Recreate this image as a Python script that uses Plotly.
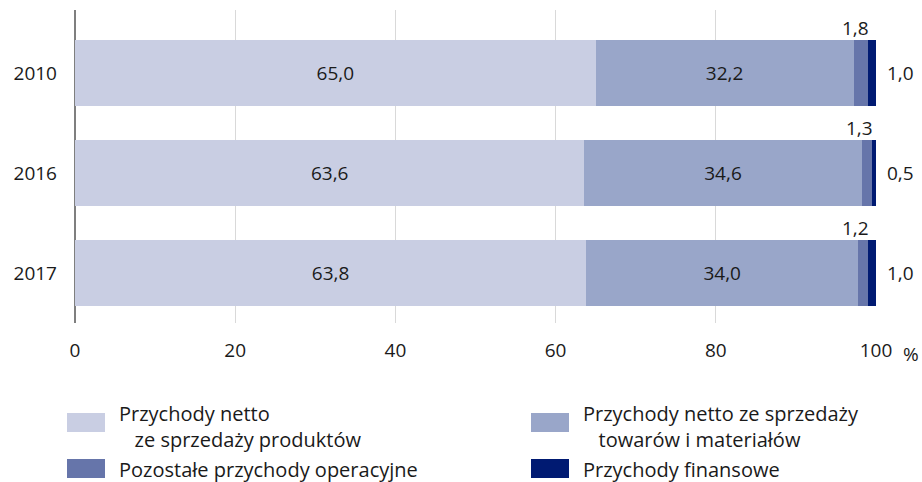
import plotly.graph_objects as go

years = ["2010", "2016", "2017"]
series_names = [
    "Przychody netto ze sprzedaży produktów",
    "Przychody netto ze sprzedaży towarów i materiałów",
    "Pozostałe przychody operacyjne",
    "Przychody finansowe",
]
legend_lines = [
    ["Przychody netto", "ze sprzedaży produktów"],
    ["Przychody netto ze sprzedaży", "towarów i materiałów"],
    ["Pozostałe przychody operacyjne"],
    ["Przychody finansowe"],
]
produkty = [65.0, 63.6, 63.8]
towary = [32.2, 34.6, 34.0]
pozostale = [1.8, 1.3, 1.2]
finansowe = [1.0, 0.5, 1.0]
x_ticks = [0, 20, 40, 60, 80, 100]

colors = ["#c9cee3", "#99a6c9", "#6675aa", "#001a72"]
FONT = "Open Sans"
TXT = "#1a1a1a"
FS = 19
LFS = 20

values = [produkty, towary, pozostale, finansowe]
ypos = list(range(len(years)))

fig = go.Figure()
for i, (name, vals) in enumerate(zip(series_names, values)):
    fig.add_trace(go.Bar(
        y=ypos, x=vals, orientation="h", name=name,
        marker=dict(color=colors[i], line=dict(width=0)),
        width=0.66,
        text=vals if i < 2 else None,
        texttemplate="%{x:.1f}" if i < 2 else None,
        textposition="inside" if i < 2 else "none",
        insidetextanchor="middle",
        textfont=dict(family=FONT, size=FS, color=TXT),
        showlegend=False,
        hoverinfo="x+name",
    ))

fmt = lambda v: f"{v:.1f}".replace(".", ",")
annotations = []
for k in range(len(years)):
    end3 = produkty[k] + towary[k] + pozostale[k]
    total = end3 + finansowe[k]
    annotations.append(dict(x=end3, y=ypos[k] - 0.33, xref="x", yref="y",
                            text=fmt(pozostale[k]), showarrow=False,
                            xanchor="right", yanchor="bottom", xshift=3, yshift=-3,
                            font=dict(family=FONT, size=FS, color=TXT)))
    annotations.append(dict(x=total, y=ypos[k], xref="x", yref="y",
                            text=fmt(finansowe[k]), showarrow=False,
                            xanchor="left", yanchor="middle", xshift=9,
                            font=dict(family=FONT, size=FS, color=TXT)))
annotations.append(dict(x=100, y=0, xref="x", yref="paper", text="%", showarrow=False,
                        xanchor="center", yanchor="top", xshift=35, yshift=-16,
                        font=dict(family=FONT, size=FS, color=TXT)))

# legend (custom, two columns)
W, H = 922, 482
leg_pos = [(67, 413), (531, 413), (67, 459), (531, 459)]
shapes = []
for i, (lx, ly) in enumerate(leg_pos):
    shapes.append(dict(type="rect", xref="paper", yref="paper",
                       x0=(lx - 75) / 801, x1=(lx + 38 - 75) / 801,
                       y0=(323 - ly) / 313, y1=(323 - ly - 19) / 313,
                       fillcolor=colors[i], line=dict(width=0)))
    lines = legend_lines[i]
    text = "<br>".join(lines[:1] + ["\u00a0\u00a0\u00a0" + l for l in lines[1:]])
    tx = lx + 50
    ty = ly + 13 if len(lines) > 1 else ly + 10
    annotations.append(dict(x=(tx - 75) / 801, y=(323 - ty) / 313,
                            xref="paper", yref="paper", text=text, showarrow=False,
                            xanchor="left", yanchor="middle", align="left",
                            font=dict(family=FONT, size=LFS, color=TXT)))

fig.update_layout(
    width=W, height=H,
    margin=dict(l=75, r=46, t=10, b=159),
    plot_bgcolor="white", paper_bgcolor="white",
    barmode="stack", separators=", ",
    showlegend=False,
    font=dict(family=FONT, size=FS, color=TXT),
    xaxis=dict(range=[0, 100], tickvals=x_ticks, ticktext=[str(t) for t in x_ticks],
               showgrid=True, gridcolor="#d9d9d9", gridwidth=1,
               zeroline=True, zerolinecolor="#7f7f7f", zerolinewidth=1.5,
               ticks="", ticklabelstandoff=14,
               tickfont=dict(family=FONT, size=FS, color=TXT)),
    yaxis=dict(range=[2.5, -0.63], tickvals=ypos, ticktext=years,
               showgrid=False, zeroline=False, ticks="", ticklabelstandoff=17,
               tickfont=dict(family=FONT, size=FS, color=TXT)),
    annotations=annotations, shapes=shapes,
)

fig.write_html("out.html", config={"displayModeBar": False},
               post_script="document.body.style.margin='0';document.body.style.overflow='hidden';")
